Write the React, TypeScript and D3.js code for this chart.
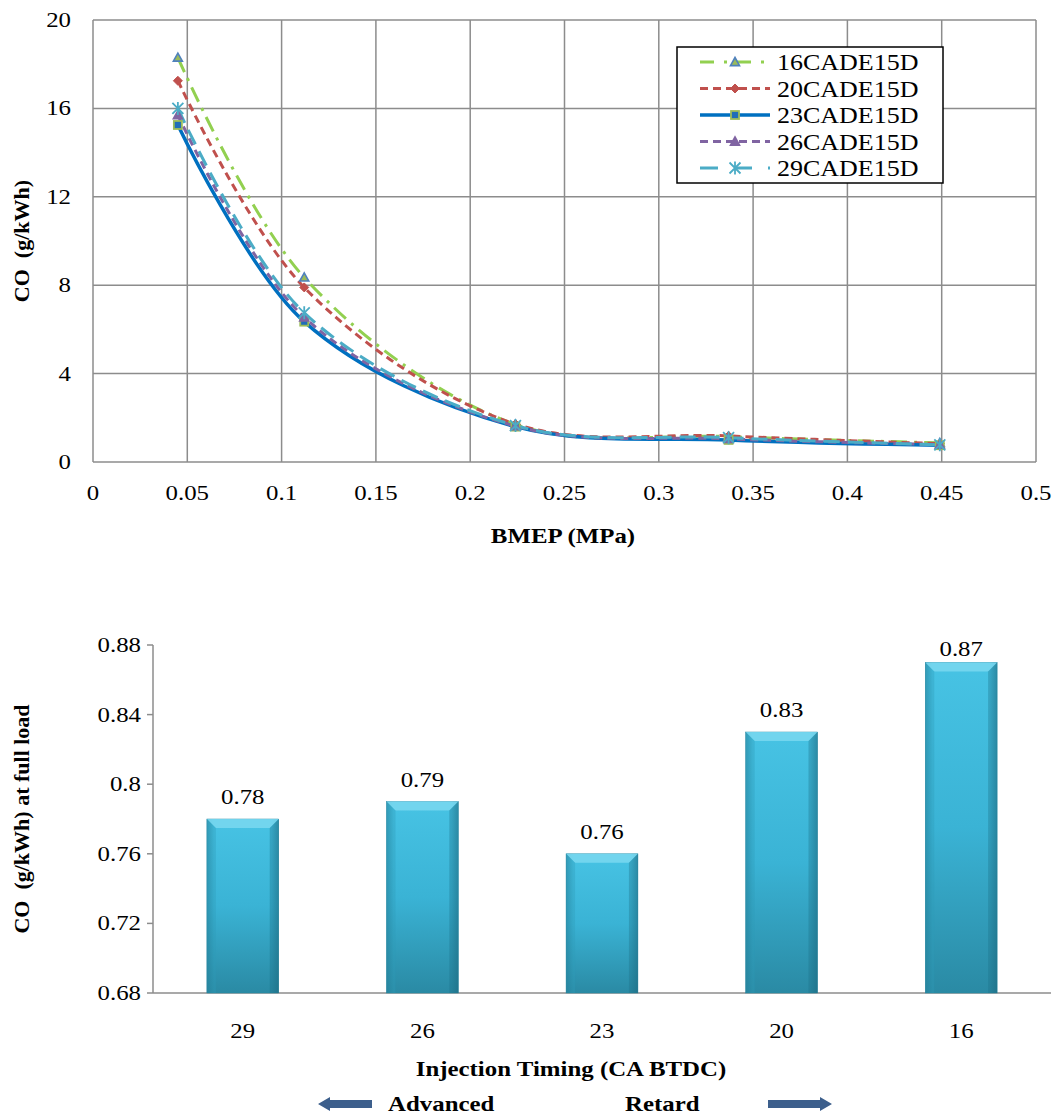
import React from "react";
import * as d3 from "d3";

const bmep = [0.045, 0.112, 0.224, 0.337, 0.449];
const seriesNames = ["16CADE15D", "20CADE15D", "23CADE15D", "26CADE15D", "29CADE15D"];
const s16 = [18.3, 8.35, 1.7, 1.15, 0.87];
const s20 = [17.25, 7.9, 1.72, 1.18, 0.83];
const s23 = [15.25, 6.35, 1.6, 1.0, 0.76];
const s26 = [15.7, 6.55, 1.62, 1.05, 0.79];
const s29 = [16.0, 6.75, 1.65, 1.1, 0.78];
const xTicks = [0, 0.05, 0.1, 0.15, 0.2, 0.25, 0.3, 0.35, 0.4, 0.45, 0.5];
const yTicks = [0, 4, 8, 12, 16, 20];

const timings = ["29", "26", "23", "20", "16"];
const fullLoadCO = [0.78, 0.79, 0.76, 0.83, 0.87];
const barTicks = [0.68, 0.72, 0.76, 0.8, 0.84, 0.88];

const FONT = "'Liberation Serif', 'Times New Roman', 'DejaVu Serif', serif";
const SX = 1.13;

type Style = { color: string; dash: string; width: number; marker: string; mFill: string; mStroke: string };
const styles: Style[] = [
  { color: "#92d050", dash: "16,7,3,7", width: 3, marker: "tri", mFill: "#9bbb59", mStroke: "#4f81bd" },
  { color: "#c0504d", dash: "8,5", width: 3, marker: "diamond", mFill: "#c0504d", mStroke: "#c0504d" },
  { color: "#0070c0", dash: "", width: 3.5, marker: "square", mFill: "#1f6db8", mStroke: "#9bbb59" },
  { color: "#8064a2", dash: "8,5", width: 3, marker: "tri", mFill: "#8064a2", mStroke: "#8064a2" },
  { color: "#4bacc6", dash: "16,8", width: 3, marker: "star", mFill: "none", mStroke: "#4bacc6" },
];

function T({ x, y, children, anchor = "start", size = 22, bold = false }: any) {
  return (
    <text
      transform={`translate(${x},${y}) scale(${SX},1)`}
      textAnchor={anchor}
      fontSize={size}
      fontWeight={bold ? "bold" : "normal"}
      style={{ fontFamily: FONT }}
    >
      {children}
    </text>
  );
}

function VT({ x, y, children }: any) {
  return (
    <text
      transform={`translate(${x},${y}) rotate(-90)`}
      textAnchor="middle"
      fontSize={22}
      fontWeight="bold"
      xmlSpace="preserve"
      style={{ fontFamily: FONT }}
    >
      {children}
    </text>
  );
}

function Marker({ kind, x, y, s }: { kind: string; x: number; y: number; s: Style }) {
  if (kind === "tri") {
    const r = 4.5;
    return (
      <path
        d={`M${x},${y - r} L${x + r},${y + r * 0.8} L${x - r},${y + r * 0.8} Z`}
        fill={s.mFill}
        stroke={s.mStroke}
        strokeWidth={1.6}
      />
    );
  }
  if (kind === "diamond") {
    const r = 4.5;
    return <path d={`M${x},${y - r} L${x + r},${y} L${x},${y + r} L${x - r},${y} Z`} fill={s.mFill} stroke={s.mStroke} strokeWidth={1} />;
  }
  if (kind === "square") {
    const r = 4;
    return <rect x={x - r} y={y - r} width={2 * r} height={2 * r} fill={s.mFill} stroke={s.mStroke} strokeWidth={1.8} />;
  }
  const r = 5.5;
  return (
    <path
      d={`M${x - r},${y - r} L${x + r},${y + r} M${x - r},${y + r} L${x + r},${y - r} M${x},${y - r - 1} L${x},${y + r + 1}`}
      stroke={s.mStroke}
      strokeWidth={1.8}
      fill="none"
    />
  );
}

function LineChart() {
  const left = 93, right = 1036, top = 20, bottom = 462;
  const x = d3.scaleLinear().domain([0, 0.5]).range([left, right]);
  const y = d3.scaleLinear().domain([0, 20]).range([bottom, top]);
  const all = [s16, s20, s23, s26, s29];
  const line = d3
    .line<number>()
    .x((_, i) => x(bmep[i]))
    .y((d) => y(d))
    .curve(d3.curveCatmullRom.alpha(0.5));
  const fmt = (v: number) => String(+v.toFixed(2));
  return (
    <g>
      {xTicks.map((t) => (
        <line key={"gx" + t} x1={x(t)} x2={x(t)} y1={top} y2={bottom} stroke="#8c8c8c" strokeWidth={1.5} />
      ))}
      {yTicks.map((t) => (
        <line key={"gy" + t} x1={left} x2={right} y1={y(t)} y2={y(t)} stroke="#8c8c8c" strokeWidth={1.5} />
      ))}
      {xTicks.map((t) => (
        <T key={"tx" + t} x={x(t)} y={bottom + 38} anchor="middle">
          {fmt(t)}
        </T>
      ))}
      {yTicks.map((t) => (
        <T key={"ty" + t} x={left - 22} y={y(t) + 7} anchor="end">
          {t}
        </T>
      ))}
      <T x={563} y={543} anchor="middle" bold size={22}>
        BMEP (MPa)
      </T>
      <VT x={29} y={(top + bottom) / 2}>{"CO  (g/kWh)"}</VT>
      {all.map((vals, si) => (
        <path
          key={"l" + si}
          d={line(vals) || ""}
          fill="none"
          stroke={styles[si].color}
          strokeWidth={styles[si].width}
          strokeDasharray={styles[si].dash}
        />
      ))}
      {all.map((vals, si) =>
        vals.map((v, i) => <Marker key={`m${si}-${i}`} kind={styles[si].marker} x={x(bmep[i])} y={y(v)} s={styles[si]} />)
      )}
      <rect x={677} y={47} width={266} height={136} fill="white" stroke="#000" strokeWidth={1.5} />
      {seriesNames.map((n, i) => {
        const cy = 62 + i * 26.5;
        return (
          <g key={"lg" + n}>
            <line x1={700} x2={770} y1={cy} y2={cy} stroke={styles[i].color} strokeWidth={styles[i].width} strokeDasharray={i === 0 ? "14,10,3,10" : i === 4 ? "18,16" : styles[i].dash} />
            <Marker kind={styles[i].marker} x={735} y={cy} s={styles[i]} />
            <T x={777} y={cy + 8} size={23}>
              {n}
            </T>
          </g>
        );
      })}
    </g>
  );
}

function BarChart() {
  const left = 153, right = 1051, top = 645, bottom = 993;
  const x = d3.scaleBand<string>().domain(timings).range([left, right]).paddingInner(0.6).paddingOuter(0.3);
  const y = d3.scaleLinear().domain([0.68, 0.88]).range([bottom, top]);
  const bw = x.bandwidth();
  return (
    <g>
      <defs>
        <linearGradient id="barV" x1="0" y1="0" x2="0" y2="1">
          <stop offset="0" stopColor="#47c3e4" />
          <stop offset="0.5" stopColor="#3ab3d5" />
          <stop offset="1" stopColor="#2a8aa4" />
        </linearGradient>
        <linearGradient id="barH" x1="0" y1="0" x2="1" y2="0">
          <stop offset="0" stopColor="#1a5f73" stopOpacity="0.4" />
          <stop offset="0.1" stopColor="#1a5f73" stopOpacity="0" />
          <stop offset="0.9" stopColor="#1a5f73" stopOpacity="0" />
          <stop offset="1" stopColor="#1a5f73" stopOpacity="0.4" />
        </linearGradient>
      </defs>
      <line x1={left} x2={left} y1={top} y2={bottom} stroke="#8c8c8c" strokeWidth={1.5} />
      <line x1={left} x2={right} y1={bottom} y2={bottom} stroke="#8c8c8c" strokeWidth={1.5} />
      {barTicks.map((t) => (
        <g key={"bt" + t}>
          <line x1={left - 6} x2={left} y1={y(t)} y2={y(t)} stroke="#8c8c8c" strokeWidth={1.5} />
          <T x={left - 12} y={y(t) + 7} anchor="end">
            {String(t)}
          </T>
        </g>
      ))}
      {timings.map((c, i) => {
        const bx = x(c) as number;
        const by = y(fullLoadCO[i]);
        const h = bottom - by;
        const bev = 9;
        return (
          <g key={"b" + c}>
            <rect x={bx} y={by} width={bw} height={h} fill="url(#barV)" stroke="#2b8aa3" strokeWidth={0.5} />
            <rect x={bx} y={by} width={bw} height={h} fill="url(#barH)" />
            <path
              d={`M${bx},${by} L${bx + bw},${by} L${bx + bw - bev},${by + bev} L${bx + bev},${by + bev} Z`}
              fill="#7ad8f0"
              opacity={0.85}
            />
            <path d={`M${bx},${by} L${bx + bev},${by + bev} L${bx + bev},${bottom} L${bx},${bottom} Z`} fill="#2f9bb8" opacity={0.35} />
            <path d={`M${bx + bw},${by} L${bx + bw - bev},${by + bev} L${bx + bw - bev},${bottom} L${bx + bw},${bottom} Z`} fill="#1d6f86" opacity={0.35} />
            <T x={bx + bw / 2} y={Math.max(by - 15, 656)} anchor="middle">
              {fullLoadCO[i].toFixed(2)}
            </T>
            <T x={bx + bw / 2} y={bottom + 45} anchor="middle">
              {c}
            </T>
          </g>
        );
      })}
      <T x={571} y={1076} anchor="middle" bold size={22}>
        Injection Timing (CA BTDC)
      </T>
      <T x={388} y={1111} bold size={22}>
        Advanced
      </T>
      <T x={625} y={1111} bold size={22}>
        Retard
      </T>
      <path d="M318,1104 L330,1097 L330,1100 L372,1100 L372,1108 L330,1108 L330,1111 Z" fill="#3d5f8c" />
      <path d="M832,1104 L820,1097 L820,1100 L768,1100 L768,1108 L820,1108 L820,1111 Z" fill="#3d5f8c" />
      <VT x={29} y={(top + bottom) / 2}>{"CO  (g/kWh) at full load"}</VT>
    </g>
  );
}

export default function App() {
  return (
    <svg
      width={1057}
      height={1115}
      style={{ position: "absolute", left: 0, top: 0, background: "white", fontFamily: FONT }}
    >
      <rect width={1057} height={1115} fill="white" />
      <LineChart />
      <BarChart />
    </svg>
  );
}
